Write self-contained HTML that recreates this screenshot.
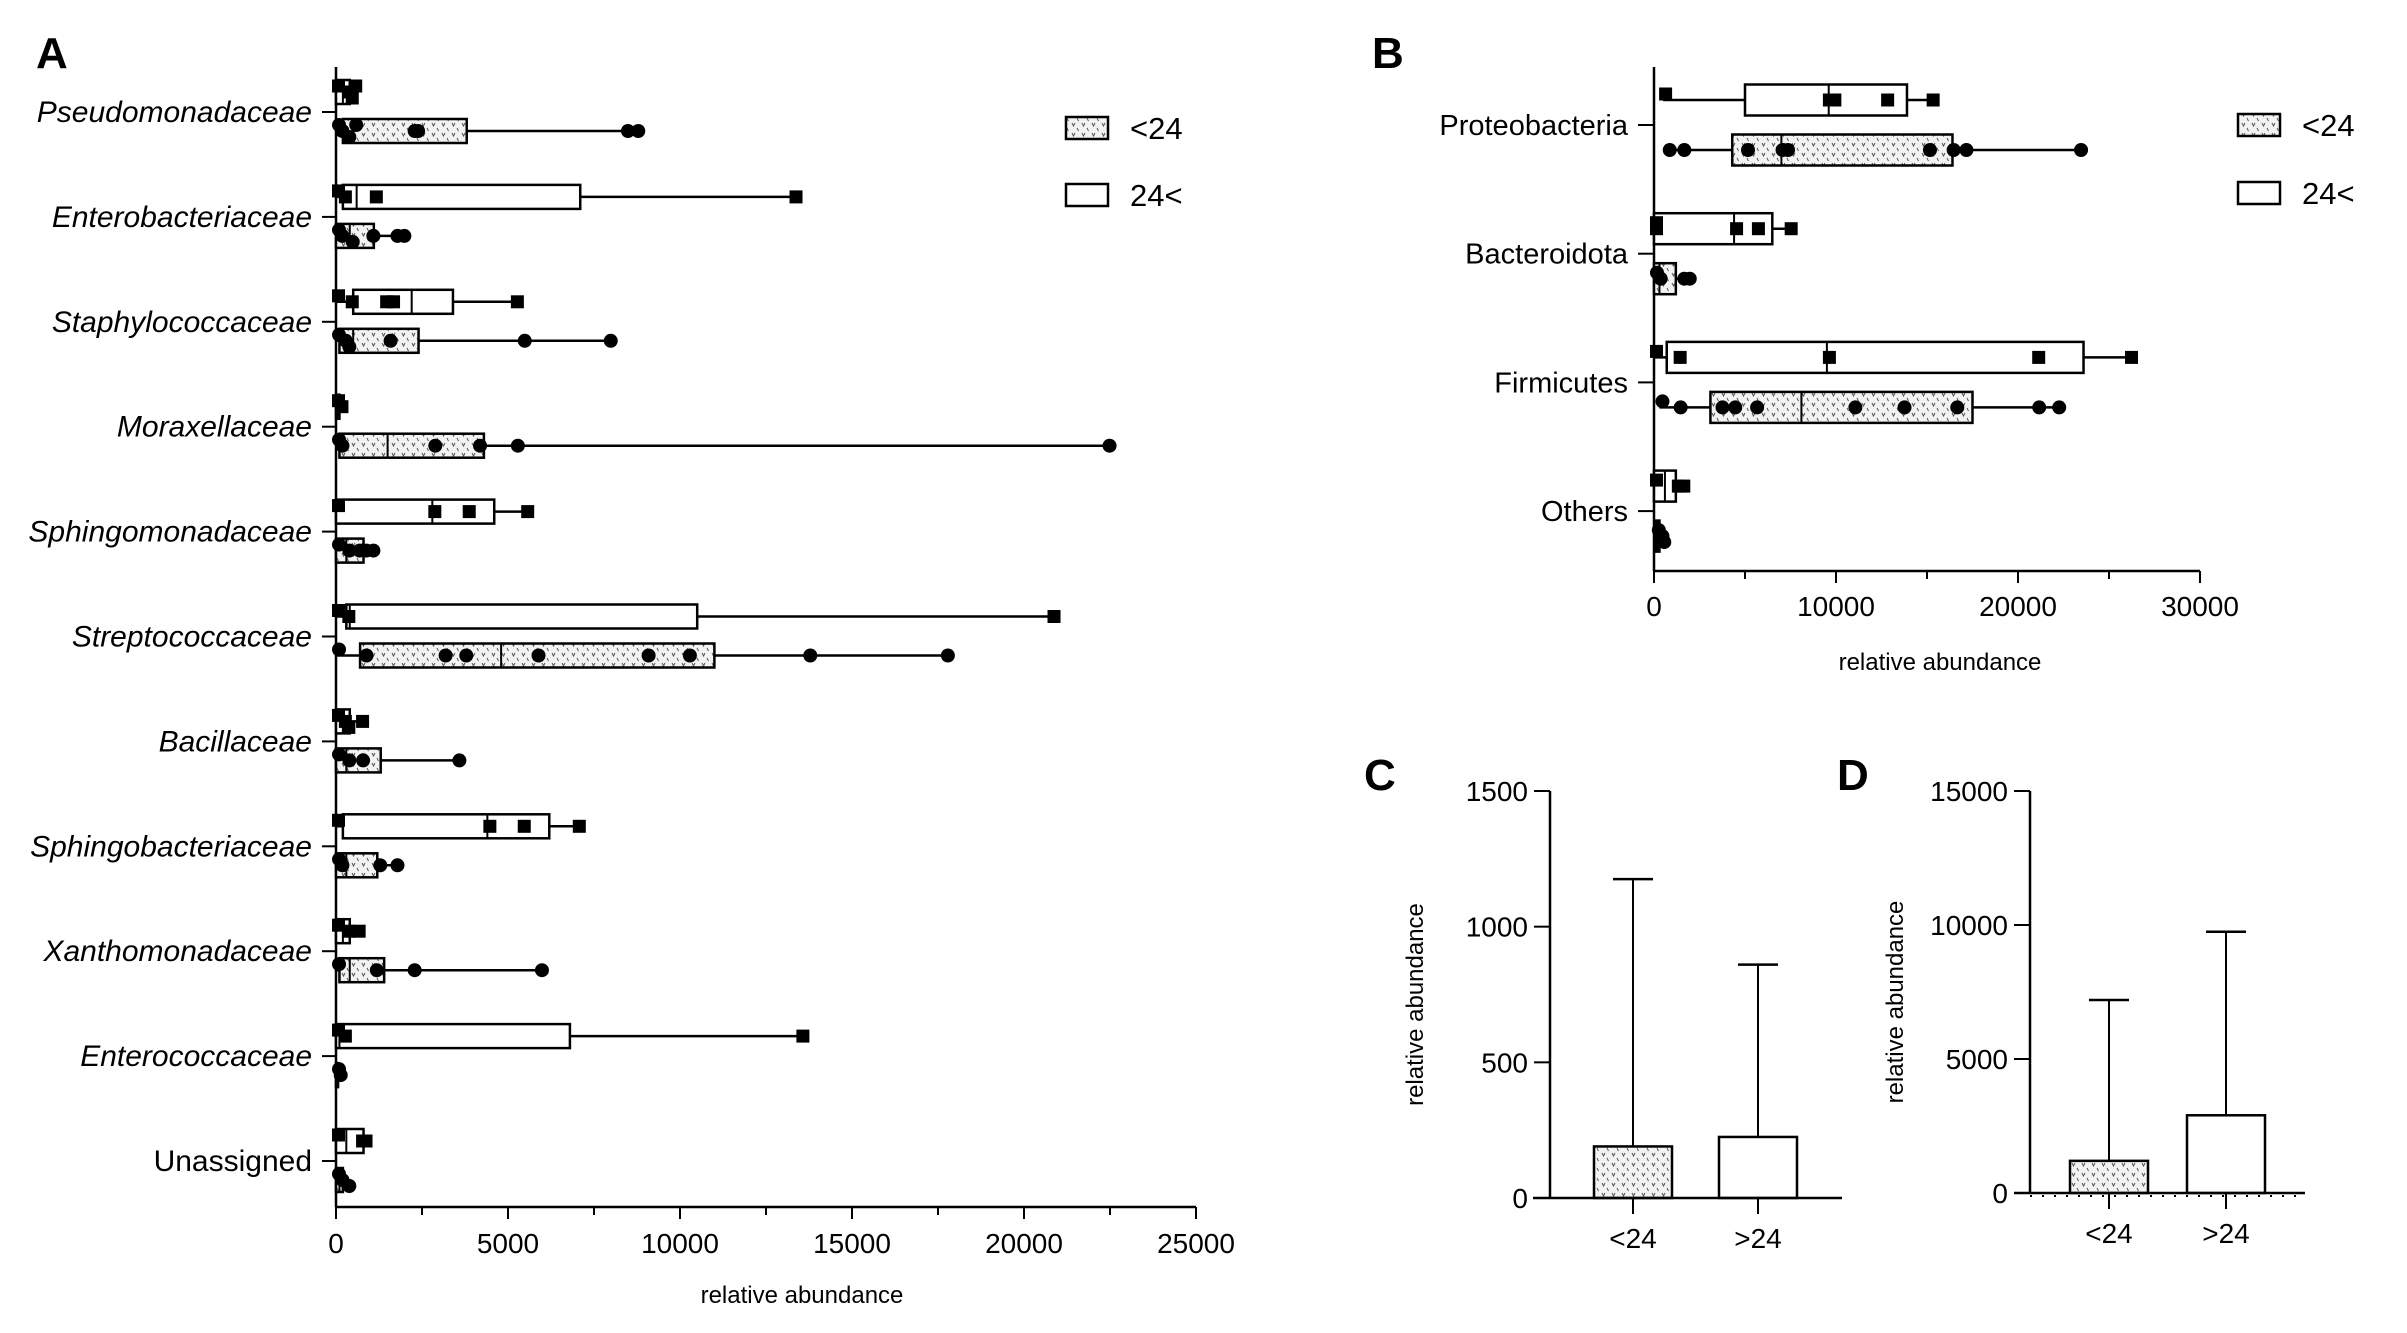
<!DOCTYPE html>
<html><head><meta charset="utf-8"><style>
body{margin:0;background:#fff;}
svg{display:block;font-family:"Liberation Sans",sans-serif;}
</style></head><body>
<svg id="fig" width="2407" height="1333" viewBox="0 0 2407 1333" xmlns="http://www.w3.org/2000/svg">
<defs>
<pattern id="pat" width="10" height="10" patternUnits="userSpaceOnUse">
<rect width="10" height="10" fill="#f2f2f2"/>
<path d="M2 3 L3.5 6 L5 3 M7 8 L8 10" stroke="#555" stroke-width="1" fill="none"/>
<path d="M7 -2 L8.5 1" stroke="#555" stroke-width="1" fill="none"/>
</pattern>
</defs>
<g id="A"></g>
<g id="B"></g>
<g id="C"></g>
<g id="D"></g>
</svg>
<script>
// ---- Panel A data ----
const aCats=["Pseudomonadaceae","Enterobacteriaceae","Staphylococcaceae","Moraxellaceae","Sphingomonadaceae","Streptococcaceae","Bacillaceae","Sphingobacteriaceae","Xanthomonadaceae","Enterococcaceae","Unassigned"];
const aOldQ1=[0,200,500,0,0,300,0,200,0,0,0];
const aOldMed=[200,600,2200,50,2800,400,200,4400,200,100,300];
const aOldQ3=[400,7100,3400,100,4600,10500,400,6200,400,6800,800];
const aOldMax=[500,13300,5200,150,5500,20800,700,7000,600,13500,900];
const aOldPts=[[0,300,400,500],[0,200,1100,13300],[0,400,1400,1600,5200],[0,100],[0,2800,3800,5500],[0,300,20800],[0,200,300,700],[0,4400,5400,7000],[0,300,600],[0,200,13500],[0,700,800]];
const aYngQ1=[200,0,100,100,0,700,0,0,100,0,0];
const aYngMed=[500,400,500,1500,300,4800,300,300,400,30,100];
const aYngQ3=[3800,1100,2400,4300,800,11000,1300,1200,1400,60,200];
const aYngMax=[8700,1900,7900,22400,1000,17700,3500,1700,5900,80,350];
const aYngPts=[[0,100,300,500,2200,2300,8400,8700],[0,100,400,1000,1700,1900],[0,200,300,1500,5400,7900],[0,100,2800,4100,5200,22400],[0,300,600,800,1000],[0,800,3100,3700,5800,9000,10200,13700,17700],[0,300,700,3500],[0,100,1200,1700],[0,1100,2200,5900],[0,50],[0,100,300]];
const aTicks=[0,5000,10000,15000,20000,25000];
// ---- Panel B data ----
const bCats=["Proteobacteria","Bacteroidota","Firmicutes","Others"];
const bOldMin=[500,0,0,0];
const bOldQ1=[5000,0,700,0];
const bOldMed=[9600,4400,9500,600];
const bOldQ3=[13900,6500,23600,1200];
const bOldMax=[15200,7400,26100,1500];
const bOldPts=[[500,9500,9800,12700,15200],[0,0,4400,5600,7400],[0,1300,9500,21000,26100],[0,1200,1500]];
const bYngMin=[700,0,300,100];
const bYngQ1=[4300,0,3100,100];
const bYngMed=[7000,300,8100,200];
const bYngQ3=[16400,1200,17500,300];
const bYngMax=[23300,1800,22100,400];
const bYngPts=[[700,1500,5000,6900,7200,15000,16300,17000,23300],[0,200,1500,1800],[300,1300,3600,4300,5500,10900,13600,16500,21000,22100],[100,300,400]];
const bTicks=[0,10000,20000,30000];
// ---- Panel C/D data ----
const cCats=["<24",">24"];
const cVals=[190,225];
const cErr=[1175,860];
const cTicks=[0,500,1000,1500];
const dCats=["<24",">24"];
const dVals=[1200,2900];
const dErr=[7200,9750];
const dTicks=[0,5000,10000,15000];

const NS="http://www.w3.org/2000/svg";
function mk(p,t,a,txt){const e=document.createElementNS(NS,t);for(const k in a)e.setAttribute(k,a[k]);if(txt!==undefined)e.textContent=txt;p.appendChild(e);return e;}

function boxRow(g,sx,cy,h,q1,med,q3,mn,mx,pts,young,name){
  const grp=mk(g,'g',{});
  
  
  mk(grp,'line',{x1:sx(mn),x2:sx(mx),y1:cy,y2:cy,stroke:'#000','stroke-width':2.5});
  mk(grp,'rect',{x:sx(q1),y:cy-h/2,width:Math.max(0,sx(q3)-sx(q1)),height:h,fill:young?'url(#pat)':'#fff',stroke:'#000','stroke-width':2.5});
  mk(grp,'line',{x1:sx(med),x2:sx(med),y1:cy-h/2,y2:cy+h/2,stroke:'#000','stroke-width':2});
  pts.forEach((v,i)=>{
    const dy=(v<600)?((i%3)-1)*6:0;
    if(young){const c=mk(grp,'circle',{cx:sx(v)+3,cy:cy+dy,r:7,fill:'#000'});}
    else{const r=mk(grp,'rect',{x:sx(v)-4,y:cy+dy-6.5,width:13,height:13,fill:'#000'});}
  });
}
function legend(g,x,y1,y2){
  mk(g,'rect',{x:x,y:y1-11,width:42,height:22,fill:'url(#pat)',stroke:'#000','stroke-width':2.5});
  mk(g,'text',{x:x+64,y:y1+11,'font-size':31},'<24');
  mk(g,'rect',{x:x,y:y2-11,width:42,height:22,fill:'#fff',stroke:'#000','stroke-width':2.5});
  mk(g,'text',{x:x+64,y:y2+11,'font-size':31},'24<');
}

// Panel A
(function(){
  const g=document.getElementById('A');
  const x0=336,x1=1196,yTop=67,yAx=1207;
  const sx=v=>x0+v/25000*(x1-x0);
  const cy=i=>112+104.9*i;
  mk(g,'text',{x:36,y:68,'font-size':44,'font-weight':'bold'},'A');
  mk(g,'line',{x1:x0,x2:x0,y1:yTop,y2:yAx,stroke:'#000','stroke-width':2.5});
  mk(g,'line',{x1:x0,x2:x1,y1:yAx,y2:yAx,stroke:'#000','stroke-width':2.5});
  aTicks.forEach(t=>{mk(g,'line',{x1:sx(t),x2:sx(t),y1:yAx,y2:yAx+12,stroke:'#000','stroke-width':2});
    mk(g,'text',{x:sx(t),y:yAx+46,'font-size':28,'text-anchor':'middle'},t);});
  for(let k=0;k<aTicks.length-1;k++){const m=(aTicks[k]+aTicks[k+1])/2;mk(g,'line',{x1:sx(m),x2:sx(m),y1:yAx,y2:yAx+8,stroke:'#000','stroke-width':2});}
  mk(g,'text',{x:802,y:1303,'font-size':24,'text-anchor':'middle'},'relative abundance');
  aCats.forEach((c,i)=>{
    const y=cy(i);
    mk(g,'line',{x1:x0-14,x2:x0,y1:y,y2:y,stroke:'#000','stroke-width':2});
    const t=mk(g,'text',{x:x0-24,y:y+10,'font-size':30,'text-anchor':'end','font-style':c==='Unassigned'?'normal':'italic'},c);
    
    boxRow(g,sx,y-20,24,aOldQ1[i],aOldMed[i],aOldQ3[i],0,aOldMax[i],aOldPts[i],false,'box-over24-'+i);
    boxRow(g,sx,y+19,24,aYngQ1[i],aYngMed[i],aYngQ3[i],0,aYngMax[i],aYngPts[i],true,'box-under24-'+i);
  });
  legend(g,1066,128,195);
})();

// Panel B
(function(){
  const g=document.getElementById('B');
  const x0=1654,x1=2200,yTop=67,yAx=571;
  const sx=v=>x0+v/30000*(x1-x0);
  const cy=i=>125+128.7*i;
  mk(g,'text',{x:1372,y:68,'font-size':44,'font-weight':'bold'},'B');
  mk(g,'line',{x1:x0,x2:x0,y1:yTop,y2:yAx,stroke:'#000','stroke-width':2.5});
  mk(g,'line',{x1:x0,x2:x1,y1:yAx,y2:yAx,stroke:'#000','stroke-width':2.5});
  bTicks.forEach(t=>{mk(g,'line',{x1:sx(t),x2:sx(t),y1:yAx,y2:yAx+12,stroke:'#000','stroke-width':2});
    mk(g,'text',{x:sx(t),y:yAx+45,'font-size':28,'text-anchor':'middle'},t);});
  for(let k=0;k<bTicks.length-1;k++){const m=(bTicks[k]+bTicks[k+1])/2;mk(g,'line',{x1:sx(m),x2:sx(m),y1:yAx,y2:yAx+8,stroke:'#000','stroke-width':2});}
  mk(g,'text',{x:1940,y:670,'font-size':24,'text-anchor':'middle'},'relative abundance');
  bCats.forEach((c,i)=>{
    const y=cy(i);
    mk(g,'line',{x1:x0-16,x2:x0,y1:y,y2:y,stroke:'#000','stroke-width':2});
    const t=mk(g,'text',{x:x0-26,y:y+10,'font-size':29,'text-anchor':'end'},c);
    
    boxRow(g,sx,y-25,31,bOldQ1[i],bOldMed[i],bOldQ3[i],bOldMin[i],bOldMax[i],bOldPts[i],false,'box-over24-'+i);
    boxRow(g,sx,y+25,31,bYngQ1[i],bYngMed[i],bYngQ3[i],bYngMin[i],bYngMax[i],bYngPts[i],true,'box-under24-'+i);
  });
  legend(g,2238,125,193);
})();

// Panels C & D
function barPanel(id,letter,lx,axX,yZero,yTopV,max,xs,xe,barX,cats,vals,errs,ticks,dotted){
  const g=document.getElementById(id);
  const sy=v=>yZero-v/max*(yZero-yTopV);
  mk(g,'text',{x:lx,y:790,'font-size':44,'font-weight':'bold'},letter);
  mk(g,'line',{x1:axX,x2:axX,y1:yTopV,y2:yZero,stroke:'#000','stroke-width':2.5});
  ticks.forEach(t=>{mk(g,'line',{x1:axX-16,x2:axX,y1:sy(t),y2:sy(t),stroke:'#000','stroke-width':2});
    mk(g,'text',{x:axX-22,y:sy(t)+10,'font-size':28,'text-anchor':'end'},t);});
  mk(g,'text',{transform:`translate(${axX-127},${(yTopV+yZero)/2+10}) rotate(-90)`,'font-size':24,'text-anchor':'middle'},'relative abundance');
  cats.forEach((c,i)=>{
    const cx=barX[i];
    const b=mk(g,'rect',{x:cx-39,y:sy(vals[i]),width:78,height:yZero-sy(vals[i]),fill:i===0?'url(#pat)':'#fff',stroke:'#000','stroke-width':2.5});
    
    mk(g,'line',{x1:cx,x2:cx,y1:sy(errs[i]),y2:sy(vals[i]),stroke:'#000','stroke-width':2});
    mk(g,'line',{x1:cx-20,x2:cx+20,y1:sy(errs[i]),y2:sy(errs[i]),stroke:'#000','stroke-width':2.5});
    mk(g,'line',{x1:cx,x2:cx,y1:yZero,y2:yZero+16,stroke:'#000','stroke-width':2});
    mk(g,'text',{x:cx,y:yZero+50,'font-size':28,'text-anchor':'middle'},c);
  });
  mk(g,'line',{x1:xs,x2:xe,y1:yZero,y2:yZero,stroke:'#000','stroke-width':2.5});
  if(dotted) mk(g,'line',{x1:axX,x2:xe,y1:yZero+3,y2:yZero+3,stroke:'#000','stroke-width':2,'stroke-dasharray':'2 10'});
}
barPanel('C','C',1364,1550,1198,791,1500,1533,1842,[1633,1758],cCats,cVals,cErr,cTicks,false);
barPanel('D','D',1837,2030,1193,791,15000,2014,2305,[2109,2226],dCats,dVals,dErr,dTicks,true);
</script>
</body></html>
